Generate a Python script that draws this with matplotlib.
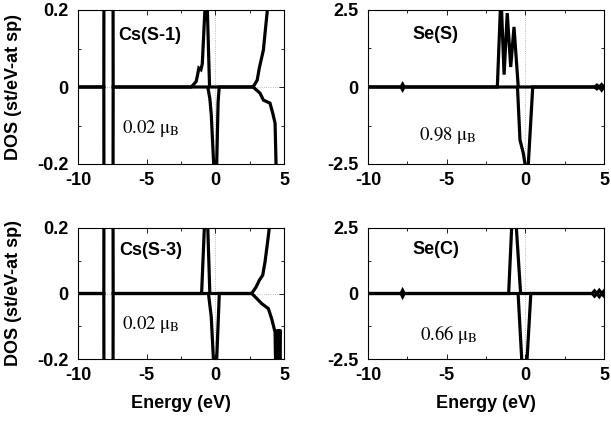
import matplotlib
matplotlib.use("Agg")
import matplotlib.pyplot as plt
from matplotlib.ticker import MultipleLocator

plt.rcParams['font.family'] = ['Liberation Sans', 'DejaVu Sans']
plt.rcParams['mathtext.fontset'] = 'stix'

# ---------------- data ----------------
# Cs(S-1)
cs1_up_x = [-10, -8.12, -8.06, -7.50, -7.44, -1.75, -1.40, -1.30, -1.20, -1.05, -0.95, -0.76, -0.70, -0.62, -0.58, -0.42,
            2.75, 3.05, 3.20, 3.50, 3.62, 3.79, 4.00, 5.0]
cs1_up_y = [0, 0, 2.0, 2.0, 0, 0, 0.014, 0.03, 0.049, 0.045, 0.06, 0.2, 0.8, 0.8, 0.2, 0.0,
            0, 0.018, 0.049, 0.096, 0.14, 0.2, 0.5, 1.0]
cs1_dn_x = [-10, -8.12, -8.06, -7.50, -7.44, -0.55, -0.40, -0.30, -0.12, 0.0, 0.10, 0.20, 0.28,
            2.75, 3.25, 3.50, 3.98, 4.18, 4.35, 4.42, 4.6, 5.0]
cs1_dn_y = [0, 0, -2.0, -2.0, 0, 0, -0.03, -0.07, -0.2, -0.6, -0.2, -0.04, 0,
            0, -0.016, -0.034, -0.042, -0.068, -0.094, -0.2, -0.5, -0.8]

# Cs(S-3)
cs3_up_x = [-10, -8.12, -8.06, -7.50, -7.44, -1.00, -0.80, -0.72, -0.62, -0.55, -0.40,
            2.65, 2.97, 3.21, 3.45, 3.62, 3.81, 3.93, 4.10, 5.0]
cs3_up_y = [0, 0, 2.0, 2.0, 0, 0, 0.2, 0.8, 0.8, 0.2, 0.0,
            0, 0.02, 0.041, 0.056, 0.097, 0.159, 0.2, 0.5, 1.0]
cs3_dn_x = [-10, -8.12, -8.06, -7.50, -7.44, -0.50, -0.30, -0.14, 0.0, 0.10, 0.29,
            2.65, 3.01, 3.38, 3.86, 4.10, 4.35, 4.42, 4.48, 4.56, 4.62, 4.70, 4.76, 5.0]
cs3_dn_y = [0, 0, -2.0, -2.0, 0, 0, -0.07, -0.2, -0.6, -0.2, 0,
            0, -0.015, -0.031, -0.046, -0.077, -0.118, -0.3, -0.3, -0.11, -0.3, -0.11, -0.3, -0.4]

# Se(S)
ses_up_x = [-10, -7.90, -7.80, -7.70, -1.78, -1.55, -1.35, -1.15, -0.93, -0.72, -0.45,
            4.40, 4.55, 4.70, 4.85, 5.0]
ses_up_y = [0, 0, 0.09, 0, 0, 3.0, 0.4, 2.4, 0.65, 1.95, 0,
            0, 0.06, 0, 0.08, 0]
ses_dn_x = [-10, -7.90, -7.80, -7.70, -0.50, -0.34, -0.13, -0.02, 0.08, 0.19, 0.47,
            4.40, 4.55, 4.70, 4.85, 5.0]
ses_dn_y = [0, 0, -0.09, 0, 0, -1.72, -2.15, -2.5, -3.5, -2.5, 0,
            0, -0.06, 0, -0.1, 0]

# Se(C)
sec_up_x = [-10, -7.90, -7.80, -7.70, -1.06, -0.87, -0.80, -0.65, -0.57, -0.30,
            4.25, 4.40, 4.55, 4.70, 4.85, 5.0]
sec_up_y = [0, 0, 0.12, 0, 0, 2.5, 4.0, 4.0, 2.5, 0,
            0, 0.1, 0, 0.12, 0.0, 0.1]
sec_dn_x = [-10, -7.90, -7.80, -7.70, -0.46, -0.23, -0.15, 0.05, 0.11, 0.35,
            4.25, 4.40, 4.55, 4.70, 4.85, 5.0]
sec_dn_y = [0, 0, -0.12, 0, 0, -2.5, -4.0, -4.0, -2.5, 0,
            0, -0.1, 0, -0.12, 0.0, -0.1]

titles = ["Cs(S-1)", "Se(S)", "Cs(S-3)", "Se(C)"]
moments = ["0.02", "0.98", "0.02", "0.66"]
ylims = [0.2, 2.5, 0.2, 2.5]
yminor = [0.1, 1.25, 0.1, 1.25]
yticks = [[-0.2, 0, 0.2], [-2.5, 0, 2.5], [-0.2, 0, 0.2], [-2.5, 0, 2.5]]
ytlabels = [["-0.2", "0", "0.2"], ["-2.5", "0", "2.5"], ["-0.2", "0", "0.2"], ["-2.5", "0", "2.5"]]
xticks = [-10, -5, 0, 5]
xtlabels = ["-10", "-5", "0", "5"]

series = [
    (cs1_up_x, cs1_up_y, cs1_dn_x, cs1_dn_y),
    (ses_up_x, ses_up_y, ses_dn_x, ses_dn_y),
    (cs3_up_x, cs3_up_y, cs3_dn_x, cs3_dn_y),
    (sec_up_x, sec_up_y, sec_dn_x, sec_dn_y),
]

W, H = 611, 425
fig = plt.figure(figsize=(W / 100, H / 100), dpi=100)

# axes boxes in pixels: left, top, right, bottom
boxes = [(78, 10, 284, 164), (368, 10, 604, 164), (78, 228, 284, 359), (368, 228, 604, 359)]
# text positions (data units)
title_pos = [(-4.75, 0.135), (-5.7, 1.69), (-4.7, 0.13), (-5.7, 1.68)]
mom_pos = [(-4.7, -0.107), (-4.95, -1.56), (-4.7, -0.096), (-4.9, -1.55)]

fs = 13
for i, (l, t, r, b) in enumerate(boxes):
    ax = fig.add_axes([l / W, 1 - b / H, (r - l) / W, (b - t) / H])
    ux, uy, dx, dy = series[i]
    ax.axvline(0, color='0.65', lw=0.6, ls=':', zorder=1)
    ax.axhline(0, color='0.65', lw=0.6, ls=':', zorder=1)
    ax.plot(ux, uy, color='black', lw=2.3, zorder=3, solid_joinstyle='miter')
    ax.plot(dx, dy, color='black', lw=2.3, zorder=3, solid_joinstyle='miter')
    ax.set_xlim(-10, 5)
    ax.set_ylim(-ylims[i], ylims[i])
    ax.set_xticks(xticks)
    ax.set_xticklabels(xtlabels, fontsize=fs, fontweight='bold')
    ax.set_yticks(yticks[i])
    ax.set_yticklabels(ytlabels[i], fontsize=fs, fontweight='bold')
    ax.xaxis.set_minor_locator(MultipleLocator(2.5))
    ax.yaxis.set_minor_locator(MultipleLocator(yminor[i]))
    ax.tick_params(which='both', direction='in', top=True, right=True, width=0.6)
    ax.tick_params(which='major', length=3.5)
    ax.tick_params(which='minor', length=2.5)
    ax.tick_params(axis='y', which='major', pad=7)
    ax.tick_params(axis='x', which='major', pad=6)
    for s in ax.spines.values():
        s.set_linewidth(0.8)
    tx, ty = title_pos[i]
    ax.text(tx, ty, titles[i], fontsize=fs, fontweight='bold', ha='center', va='center')
    mx, my = mom_pos[i]
    ax.text(mx, my, moments[i] + " \u03bc$_{\\rm B}$", fontsize=13.5, family='STIXGeneral',
            ha='center', va='center')
    if i in (0, 2):
        ax.set_ylabel("DOS (st/eV-at sp)", fontsize=fs, fontweight='bold')
        ax.yaxis.set_label_coords((22 - l) / (r - l), 0.5)
    if i in (2, 3):
        ax.set_xlabel("Energy (eV)", fontsize=fs, fontweight='bold')
        ax.xaxis.set_label_coords(0.5, (b - 395) / (b - t))

fig.savefig("out.png", dpi=100)
